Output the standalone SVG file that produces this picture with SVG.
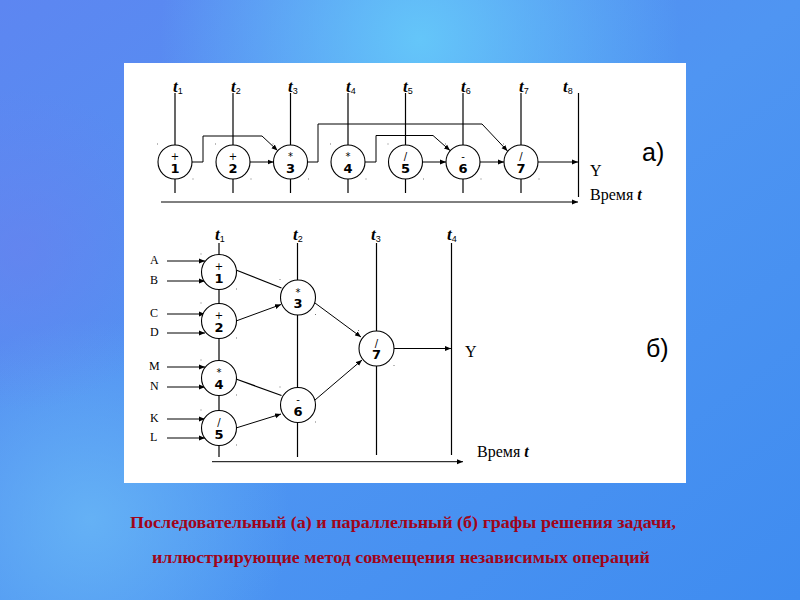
<svg xmlns="http://www.w3.org/2000/svg" width="800" height="600" viewBox="0 0 800 600">
<defs>
<linearGradient id="bg" x1="0" y1="0" x2="1" y2="1">
<stop offset="0" stop-color="#5d86f1"/>
<stop offset="0.5" stop-color="#4f95f2"/>
<stop offset="1" stop-color="#3f8cf0"/>
</linearGradient>
<radialGradient id="glow1" cx="420" cy="40" r="260" gradientUnits="userSpaceOnUse">
<stop offset="0" stop-color="#66ccfa" stop-opacity="0.9"/>
<stop offset="1" stop-color="#66ccfa" stop-opacity="0"/>
</radialGradient>
<radialGradient id="glow2" cx="90" cy="520" r="200" gradientUnits="userSpaceOnUse">
<stop offset="0" stop-color="#6ab8f6" stop-opacity="0.8"/>
<stop offset="1" stop-color="#6ab8f6" stop-opacity="0"/>
</radialGradient>
<radialGradient id="glow3" cx="20" cy="250" r="160" gradientUnits="userSpaceOnUse">
<stop offset="0" stop-color="#6a80ee" stop-opacity="0.6"/>
<stop offset="1" stop-color="#6a80ee" stop-opacity="0"/>
</radialGradient>
<marker id="ah" markerWidth="7" markerHeight="6" refX="6" refY="3" orient="auto" markerUnits="userSpaceOnUse">
<path d="M0,0.5 L6,3 L0,5.5 z" fill="#000"/>
</marker>
<style>
.ln{stroke:#000;stroke-width:1.2;fill:none}
.ar{stroke:#000;stroke-width:1;fill:none;marker-end:url(#ah)}
.nd{fill:#fff;stroke:#000;stroke-width:1.1}
.op{font-family:"DejaVu Sans",sans-serif;font-size:10px;text-anchor:middle;fill:#000}
.num{font-family:"DejaVu Sans",sans-serif;font-size:13px;font-weight:bold;text-anchor:middle;fill:#000}
.t{font-family:"Liberation Serif",serif;font-size:17px;font-weight:bold;font-style:italic;fill:#000}
.sub{font-family:"Liberation Sans",sans-serif;font-size:9px;font-weight:normal;font-style:normal}
.lbl{font-family:"Liberation Serif",serif;font-size:12px;fill:#000}
.big{font-family:"Liberation Serif",serif;font-size:16px;fill:#000}
.part{font-family:"Liberation Sans",sans-serif;font-size:25px;fill:#000}
.dot{fill:#777}
.cap{font-family:"Liberation Serif",serif;font-size:16px;font-weight:bold;fill:#a0041a;text-anchor:middle}
</style>
</defs>
<rect x="0" y="0" width="800" height="600" fill="url(#bg)"/>
<rect x="0" y="0" width="800" height="600" fill="url(#glow1)"/>
<rect x="0" y="0" width="800" height="600" fill="url(#glow2)"/>
<rect x="0" y="0" width="800" height="600" fill="url(#glow3)"/>
<rect x="124" y="63" width="562" height="420" fill="#fff"/>

<!-- Diagram a) -->
<g id="time-axes-a">
<line class="ln" x1="175" y1="93" x2="175" y2="193"/>
<line class="ln" x1="233" y1="93" x2="233" y2="193"/>
<line class="ln" x1="290.5" y1="93" x2="290.5" y2="193"/>
<line class="ln" x1="348" y1="93" x2="348" y2="193"/>
<line class="ln" x1="405.5" y1="93" x2="405.5" y2="193"/>
<line class="ln" x1="463" y1="93" x2="463" y2="193"/>
<line class="ln" x1="521" y1="93" x2="521" y2="193"/>
<line class="ln" x1="578.5" y1="93" x2="578.5" y2="197"/>
<text class="t" x="173" y="92">t<tspan class="sub" dy="2">1</tspan></text>
<text class="t" x="231" y="92">t<tspan class="sub" dy="2">2</tspan></text>
<text class="t" x="288" y="92">t<tspan class="sub" dy="2">3</tspan></text>
<text class="t" x="346" y="92">t<tspan class="sub" dy="2">4</tspan></text>
<text class="t" x="403" y="92">t<tspan class="sub" dy="2">5</tspan></text>
<text class="t" x="461" y="92">t<tspan class="sub" dy="2">6</tspan></text>
<text class="t" x="519" y="92">t<tspan class="sub" dy="2">7</tspan></text>
<text class="t" x="563" y="92">t<tspan class="sub" dy="2">8</tspan></text>
</g>
<g id="connectors-a">
<polyline class="ar" points="192,162 203,162 203,136 262,136 277.5,150.5"/>
<line class="ar" x1="250" y1="162" x2="273.5" y2="162"/>
<polyline class="ar" points="307.5,162 318,162 318,124 482,124 507.5,151"/>
<polyline class="ar" points="365,162 376,162 376,135.5 433,135.5 450,150.5"/>
<line class="ar" x1="422.5" y1="162" x2="446" y2="162"/>
<line class="ar" x1="480" y1="162" x2="504" y2="162"/>
<line class="ar" x1="538" y1="162" x2="578" y2="162"/>
<line class="ar" x1="161" y1="202" x2="578" y2="202"/>
</g>
<g id="a-node1"><circle class="nd" cx="175" cy="162" r="17"/><text class="op" x="175" y="160">+</text><text class="num" x="175" y="172.5">1</text><rect class="dot" x="157" y="143.5" width="1" height="1"/><rect class="dot" x="192.5" y="178.5" width="1" height="1"/></g>
<g id="a-node2"><circle class="nd" cx="233" cy="162" r="17"/><text class="op" x="233" y="160">+</text><text class="num" x="233" y="172.5">2</text><rect class="dot" x="215" y="143.5" width="1" height="1"/><rect class="dot" x="250.5" y="178.5" width="1" height="1"/></g>
<g id="a-node3"><circle class="nd" cx="290.5" cy="162" r="17"/><text class="op" x="290.5" y="160">*</text><text class="num" x="290.5" y="172.5">3</text><rect class="dot" x="272.5" y="143.5" width="1" height="1"/><rect class="dot" x="308" y="178.5" width="1" height="1"/></g>
<g id="a-node4"><circle class="nd" cx="348" cy="162" r="17"/><text class="op" x="348" y="160">*</text><text class="num" x="348" y="172.5">4</text><rect class="dot" x="330" y="143.5" width="1" height="1"/><rect class="dot" x="365.5" y="178.5" width="1" height="1"/></g>
<g id="a-node5"><circle class="nd" cx="405.5" cy="162" r="17"/><text class="op" x="405.5" y="160">/</text><text class="num" x="405.5" y="172.5">5</text><rect class="dot" x="387.5" y="143.5" width="1" height="1"/><rect class="dot" x="423" y="178.5" width="1" height="1"/></g>
<g id="a-node6"><circle class="nd" cx="463" cy="162" r="17"/><text class="op" x="463" y="160">-</text><text class="num" x="463" y="172.5">6</text><rect class="dot" x="445" y="143.5" width="1" height="1"/><rect class="dot" x="480.5" y="178.5" width="1" height="1"/></g>
<g id="a-node7"><circle class="nd" cx="521" cy="162" r="17"/><text class="op" x="521" y="160">/</text><text class="num" x="521" y="172.5">7</text><rect class="dot" x="503" y="143.5" width="1" height="1"/><rect class="dot" x="538.5" y="178.5" width="1" height="1"/></g>
<g id="labels-a">
<text class="big" x="590" y="176">Y</text>
<text class="big" x="590" y="200">Время <tspan font-style="italic" font-weight="bold">t</tspan></text>
<text class="part" x="642" y="161">а)</text>
</g>

<!-- Diagram б) -->
<g id="time-axes-b">
<line class="ln" x1="219" y1="243" x2="219" y2="457"/>
<line class="ln" x1="297.5" y1="243" x2="297.5" y2="457"/>
<line class="ln" x1="376.5" y1="243" x2="376.5" y2="455"/>
<line class="ln" x1="451.5" y1="243" x2="451.5" y2="455"/>
<text class="t" x="215" y="240">t<tspan class="sub" dy="2">1</tspan></text>
<text class="t" x="293" y="240">t<tspan class="sub" dy="2">2</tspan></text>
<text class="t" x="371" y="240">t<tspan class="sub" dy="2">3</tspan></text>
<text class="t" x="447" y="240">t<tspan class="sub" dy="2">4</tspan></text>
</g>
<g id="connectors-b">
<line class="ar" x1="167" y1="261" x2="205" y2="261"/>
<line class="ar" x1="167" y1="281" x2="205" y2="281"/>
<line class="ar" x1="167" y1="314" x2="205" y2="314"/>
<line class="ar" x1="167" y1="333" x2="205" y2="333"/>
<line class="ar" x1="167" y1="367" x2="205" y2="367"/>
<line class="ar" x1="167" y1="387" x2="205" y2="387"/>
<line class="ar" x1="167" y1="419" x2="205" y2="419"/>
<line class="ar" x1="167" y1="438" x2="205" y2="438"/>
<line class="ln" stroke-width="1" x1="236" y1="270" x2="281.5" y2="288"/>
<line class="ar" x1="236" y1="321" x2="281" y2="304.5"/>
<line class="ln" stroke-width="1" x1="236" y1="379" x2="281.5" y2="395.5"/>
<line class="ar" x1="236" y1="428" x2="281" y2="414"/>
<line class="ar" x1="315" y1="303" x2="361" y2="337"/>
<line class="ar" x1="315" y1="400" x2="362" y2="360"/>
<line class="ar" x1="394" y1="348.5" x2="451" y2="348.5"/>
<line class="ar" x1="212" y1="461.7" x2="463" y2="461.7"/>
</g>
<g id="b-node1"><circle class="nd" cx="219" cy="272" r="17.5"/><text class="op" x="219" y="270">+</text><text class="num" x="219" y="282.5">1</text><rect class="dot" x="200.5" y="253.5" width="1" height="1"/><rect class="dot" x="236" y="288.5" width="1" height="1"/></g>
<g id="b-node2"><circle class="nd" cx="219" cy="321" r="17.5"/><text class="op" x="219" y="319">+</text><text class="num" x="219" y="331.5">2</text><rect class="dot" x="200.5" y="302.5" width="1" height="1"/><rect class="dot" x="236" y="337.5" width="1" height="1"/></g>
<g id="b-node3"><circle class="nd" cx="298" cy="297.5" r="17.5"/><text class="op" x="298" y="295.5">*</text><text class="num" x="298" y="308">3</text><rect class="dot" x="279.5" y="279" width="1" height="1"/><rect class="dot" x="315" y="314" width="1" height="1"/></g>
<g id="b-node4"><circle class="nd" cx="219" cy="378" r="17.5"/><text class="op" x="219" y="376">*</text><text class="num" x="219" y="388.5">4</text><rect class="dot" x="200.5" y="359.5" width="1" height="1"/><rect class="dot" x="236" y="394.5" width="1" height="1"/></g>
<g id="b-node5"><circle class="nd" cx="219" cy="428" r="17.5"/><text class="op" x="219" y="426">/</text><text class="num" x="219" y="438.5">5</text><rect class="dot" x="200.5" y="409.5" width="1" height="1"/><rect class="dot" x="236" y="444.5" width="1" height="1"/></g>
<g id="b-node6"><circle class="nd" cx="298" cy="405" r="17.5"/><text class="op" x="298" y="403">-</text><text class="num" x="298" y="415.5">6</text><rect class="dot" x="279.5" y="386.5" width="1" height="1"/><rect class="dot" x="315" y="421.5" width="1" height="1"/></g>
<g id="b-node7"><circle class="nd" cx="376.5" cy="348.5" r="17.5"/><text class="op" x="376.5" y="346.5">/</text><text class="num" x="376.5" y="359">7</text><rect class="dot" x="358" y="330" width="1" height="1"/><rect class="dot" x="393.5" y="365" width="1" height="1"/></g>
<g id="labels-b">
<text class="lbl" x="150" y="264">A</text>
<text class="lbl" x="150" y="284">B</text>
<text class="lbl" x="150" y="317">C</text>
<text class="lbl" x="150" y="336">D</text>
<text class="lbl" x="149" y="370">M</text>
<text class="lbl" x="150" y="390">N</text>
<text class="lbl" x="150" y="422">K</text>
<text class="lbl" x="150" y="441">L</text>
<text class="big" x="465" y="357">Y</text>
<text class="big" x="477" y="457">Время <tspan font-style="italic" font-weight="bold">t</tspan></text>
<text class="part" x="646" y="357">б)</text>
</g>

<g id="caption">
<text class="cap" x="403" y="528" textLength="546" lengthAdjust="spacingAndGlyphs">Последовательный (а) и параллельный (б) графы решения задачи,</text>
<text class="cap" x="401" y="563" textLength="498" lengthAdjust="spacingAndGlyphs">иллюстрирующие метод совмещения независимых операций</text>
</g>
</svg>
